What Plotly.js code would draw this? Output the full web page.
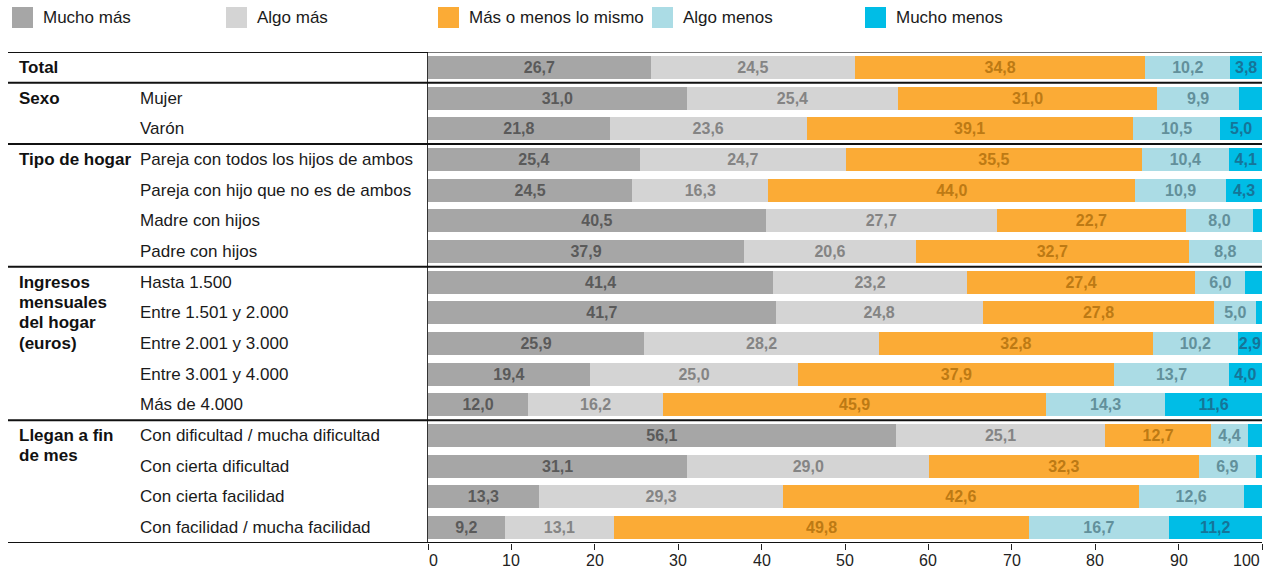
<!DOCTYPE html>
<html><head><meta charset="utf-8">
<script src="https://cdn.plot.ly/plotly-3.0.1.min.js"></script>
<style>html,body{margin:0;padding:0;background:#fff}</style>
</head><body>
<div id="chart" style="width:1270px;height:572px"></div>
<script>
// ---------- data ----------
const seriesNames = ['Mucho más', 'Algo más', 'Más o menos lo mismo', 'Algo menos', 'Mucho menos'];
const rowLabels = ['', 'Mujer', 'Varón', 'Pareja con todos los hijos de ambos', 'Pareja con hijo que no es de ambos',
  'Madre con hijos', 'Padre con hijos', 'Hasta 1.500', 'Entre 1.501 y 2.000', 'Entre 2.001 y 3.000',
  'Entre 3.001 y 4.000', 'Más de 4.000', 'Con dificultad / mucha dificultad', 'Con cierta dificultad',
  'Con cierta facilidad', 'Con facilidad / mucha facilidad'];
const groupNames = [['Total'], ['Sexo'], ['Tipo de hogar'], ['Ingresos', 'mensuales', 'del hogar', '(euros)'], ['Llegan a fin', 'de mes']];
const groupStartRows = [0, 1, 3, 7, 12];

const muchoMas   = [26.7, 31.0, 21.8, 25.4, 24.5, 40.5, 37.9, 41.4, 41.7, 25.9, 19.4, 12.0, 56.1, 31.1, 13.3, 9.2];
const algoMas    = [24.5, 25.4, 23.6, 24.7, 16.3, 27.7, 20.6, 23.2, 24.8, 28.2, 25.0, 16.2, 25.1, 29.0, 29.3, 13.1];
const igual      = [34.8, 31.0, 39.1, 35.5, 44.0, 22.7, 32.7, 27.4, 27.8, 32.8, 37.9, 45.9, 12.7, 32.3, 42.6, 49.8];
const algoMenos  = [10.2, 9.9, 10.5, 10.4, 10.9, 8.0, 8.8, 6.0, 5.0, 10.2, 13.7, 14.3, 4.4, 6.9, 12.6, 16.7];
const muchoMenos = [3.8, 2.7, 5.0, 4.1, 4.3, 1.1, 0.0, 2.0, 0.7, 2.9, 4.0, 11.6, 1.7, 0.7, 2.2, 11.2];
const xTicks = [0, 10, 20, 30, 40, 50, 60, 70, 80, 90, 100];

// ---------- styling ----------
const barColors  = ['#a6a6a6', '#d4d4d4', '#fbab36', '#abdce5', '#00bde6'];
const textColors = ['#5a5a5a', '#848484', '#bd7a14', '#62909b', '#157599'];
const FONT = 'Liberation Sans, Arial, Helvetica, sans-serif';

const W = 1270, H = 572;
const M = {l: 428, r: 8, t: 52, b: 29};
const PW = W - M.l - M.r, PH = H - M.t - M.b;
const px = x => (x - M.l) / PW;        // pixel x -> paper
const py = y => (H - M.b - y) / PH;    // pixel y -> paper

const rows = rowLabels.map((_, i) => i);
const allSeries = [muchoMas, algoMas, igual, algoMenos, muchoMenos];
const fmt = v => v >= 2.8 ? v.toFixed(1).replace('.', ',') : '';

const traces = allSeries.map((vals, k) => ({
  type: 'bar', orientation: 'h', name: seriesNames[k],
  x: vals, y: rows,
  marker: {color: barColors[k], line: {width: 0}},
  text: vals.map(fmt), texttemplate: '<b>%{text}</b>',
  textposition: 'inside', insidetextanchor: 'middle', textangle: 0,
  constraintext: 'none',
  textfont: {family: FONT, size: 16, color: textColors[k]},
  hoverinfo: 'skip', showlegend: false
}));

const shapes = [];
const annotations = [];

// separators
const sepRows = groupStartRows.map(r => r - 0.5).concat([rowLabels.length - 0.5]);
sepRows.forEach((r, i) => {
  if (i === 0) {
    shapes.push({type: 'line', xref: 'paper', yref: 'y', x0: px(8), x1: 0, y0: r, y1: r, line: {color: '#111', width: 2}});
    shapes.push({type: 'line', xref: 'paper', yref: 'y', x0: 0, x1: 1, y0: r, y1: r, line: {color: '#777', width: 2}});
  } else {
    shapes.push({type: 'line', xref: 'paper', yref: 'y', x0: px(8), x1: 1, y0: r, y1: r, line: {color: '#111', width: 2}});
  }
});

// row labels
rowLabels.forEach((t, i) => {
  if (!t) return;
  annotations.push({xref: 'paper', yref: 'y', x: px(138), y: i, xanchor: 'left', yanchor: 'middle',
    text: t, showarrow: false, font: {family: FONT, size: 17, color: '#1a1a1a'}});
});
// group labels (line by line)
const lineStep = 20.4 / (PH / rowLabels.length);
groupNames.forEach((lines, g) => {
  lines.forEach((t, j) => {
    annotations.push({xref: 'paper', yref: 'y', x: px(17), y: groupStartRows[g] + j * lineStep,
      xanchor: 'left', yanchor: 'middle', text: '<b>' + t + '</b>', showarrow: false,
      font: {family: FONT, size: 17, color: '#111'}});
  });
});

// x tick labels (end labels kept inside the plot edges)
xTicks.forEach((v, i) => {
  annotations.push({xref: 'x', yref: 'paper', x: v, y: py(560),
    xanchor: i === 0 ? 'left' : (i === xTicks.length - 1 ? 'right' : 'center'), yanchor: 'middle',
    xshift: i === 0 ? -1 : 0,
    text: String(v), showarrow: false, font: {family: FONT, size: 16, color: '#222'}});
});

// legend (manual)
const legX = [12, 226, 438, 652, 865];
seriesNames.forEach((n, k) => {
  shapes.push({type: 'rect', xref: 'paper', yref: 'paper', x0: px(legX[k]), x1: px(legX[k] + 21),
    y0: py(28), y1: py(7), fillcolor: barColors[k], line: {width: 0}});
  annotations.push({xref: 'paper', yref: 'paper', x: px(legX[k] + 29), y: py(17.5), xanchor: 'left', yanchor: 'middle',
    text: n, showarrow: false, font: {family: FONT, size: 17, color: '#1a1a1a'}});
});

const layout = {
  width: W, height: H, margin: M,
  paper_bgcolor: '#fff', plot_bgcolor: '#fff',
  barmode: 'stack', bargap: 0.25,
  separators: ',.',
  showlegend: false,
  xaxis: {range: [0, 100], tickvals: xTicks, showticklabels: false, showgrid: false, zeroline: false,
    showline: false, ticks: 'outside', ticklen: 6, tickwidth: 1, tickcolor: '#222', fixedrange: true},
  yaxis: {range: [rowLabels.length - 0.5, -0.5], showticklabels: false, showgrid: false, zeroline: false,
    showline: true, linecolor: '#333', linewidth: 1, ticks: '', fixedrange: true},
  shapes: shapes, annotations: annotations,
  font: {family: FONT}
};

Plotly.newPlot('chart', traces, layout, {displayModeBar: false, staticPlot: true});
</script>
</body></html>
